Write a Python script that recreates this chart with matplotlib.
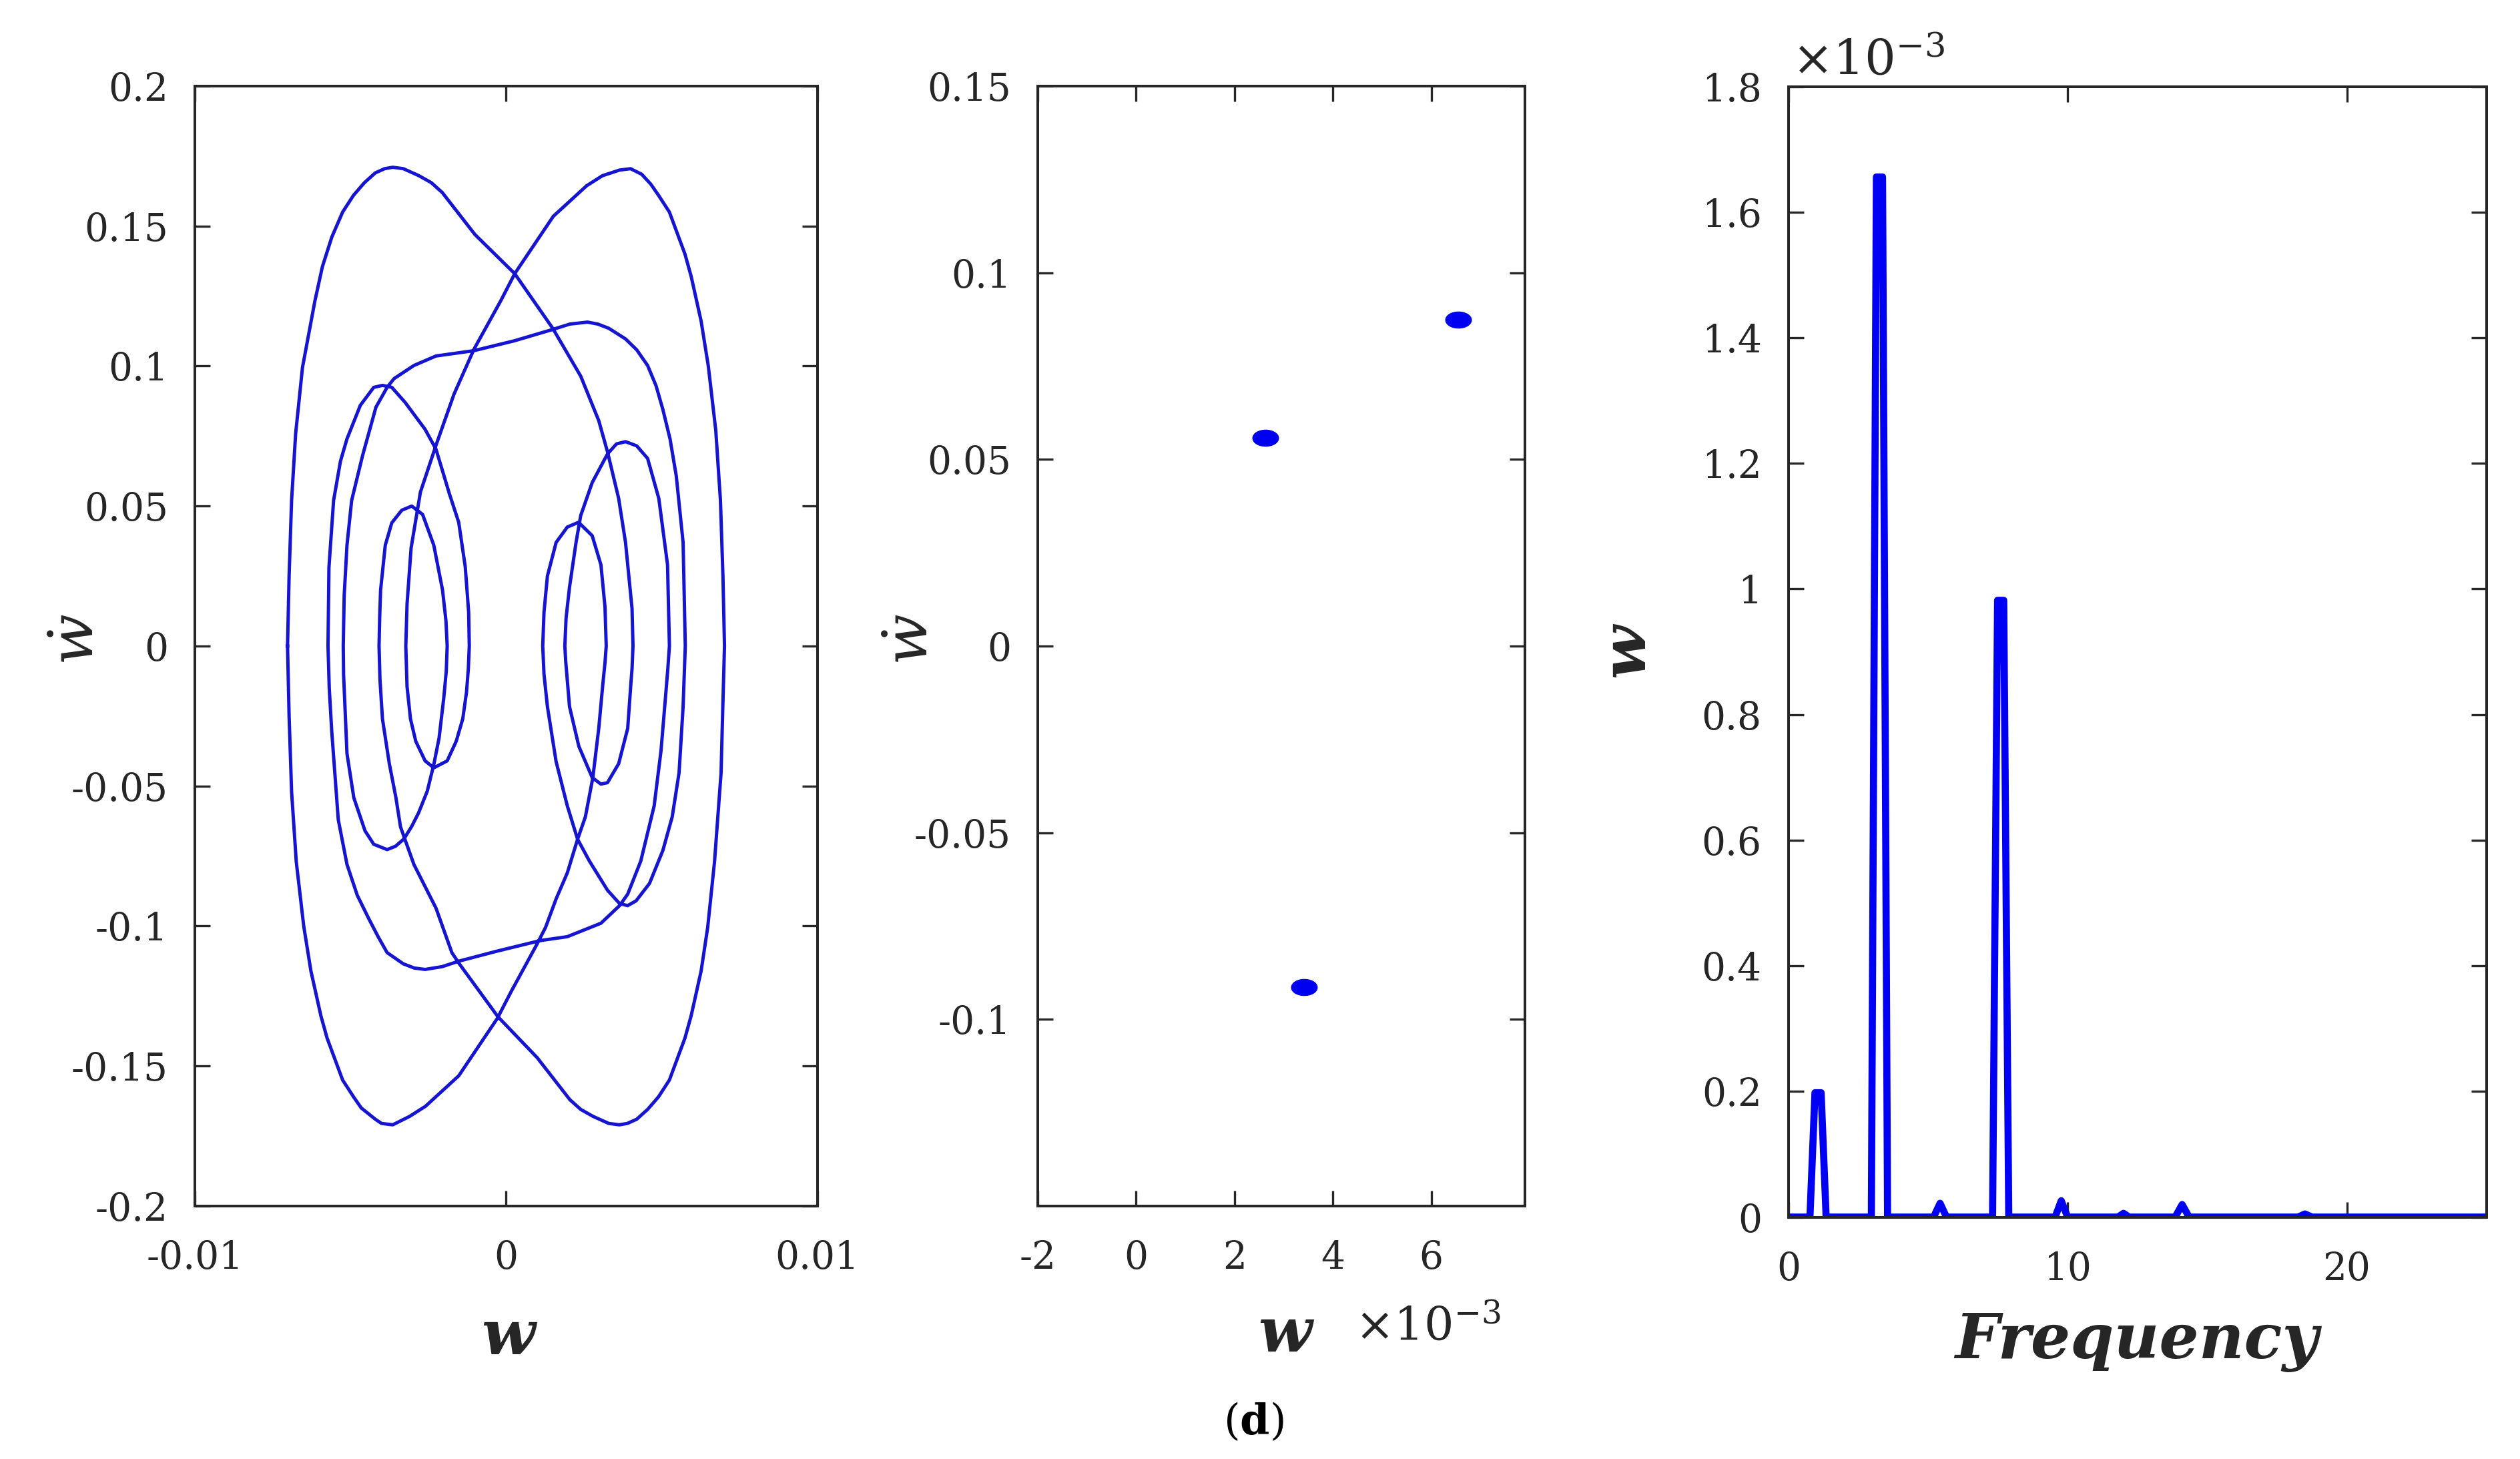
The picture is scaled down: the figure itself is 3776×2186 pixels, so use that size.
import numpy as np
import matplotlib
matplotlib.use("Agg")
import matplotlib.pyplot as plt
from matplotlib.path import Path
from matplotlib.transforms import Affine2D

plt.rcParams['font.family'] = 'DejaVu Serif'
plt.rcParams['mathtext.fontset'] = 'dejavuserif'
plt.rcParams['axes.unicode_minus'] = False

# ---- panel 1: phase portrait, one period read off the picture arc by arc
# w in units of 1e-3, wdot as is; each arc goes from one w-turning point to the next
arcs_w = [
    [-7.02, -6.97, -6.89, -6.76, -6.54, -6.14, -5.9, -5.6, -5.25, -4.9, -4.55, -4.2, -3.9, -3.64, -3.3, -2.8, -2.4, -2.05, -1.0, 0.28, 1.5, 2.4, 2.98, 3.26, 3.62, 3.84, 4.05, 4.08],
    [4.08, 4.05, 4.01, 3.91, 3.62, 3.26, 3.05, 2.77, 2.34, 2.04, 1.92, 1.89],
    [1.89, 1.93, 2.04, 2.25, 2.4, 2.77, 3.26, 3.55, 3.84, 4.2, 4.55, 4.91, 5.19, 5.25],
    [5.25, 5.2, 5.13, 4.98, 4.76, 4.33, 3.91, 3.65, 3.05, 1.97, 1.1, -0.3, -1.5, -2.05, -2.6, -2.95, -3.3, -3.82, -4.1, -4.4, -4.78, -5.11, -5.39, -5.6, -5.68, -5.72],
    [-5.72, -5.69, -5.54, -5.32, -5.11, -4.68, -4.25, -3.97, -3.67, -3.24, -2.6, -2.25, -1.82, -1.52, -1.31, -1.2, -1.18],
    [-1.18, -1.21, -1.27, -1.39, -1.6, -1.89, -2.32, -2.6, -2.9, -3.07, -3.18, -3.22],
    [-3.22, -3.18, -3.05, -2.75, -2.25, -1.67, -1.03, -0.17, 0.28, 1.52, 2.59, 3.1, 3.65, 4.0, 4.36, 4.65, 4.9, 5.25, 5.55, 5.75, 5.95, 6.27, 6.5, 6.74, 6.89, 6.97, 7.02],
    [7.02, 6.97, 6.91, 6.7, 6.48, 6.27, 5.95, 5.75, 5.55, 5.25, 4.9, 4.55, 4.2, 3.9, 3.64, 3.3, 2.8, 2.4, 2.05, 1.0, -0.26, -1.5, -1.74, -2.25, -2.96, -3.39, -3.54, -3.75, -3.97, -4.05, -4.08],
    [-4.08, -4.06, -4.03, -3.88, -3.67, -3.35, -3.03, -2.68, -2.32, -2.04, -1.93, -1.89],
    [-1.89, -1.92, -2.0, -2.15, -2.32, -2.53, -2.81, -3.03, -3.28, -3.55, -3.82, -4.25, -4.53, -4.89, -5.11, -5.17, -5.22, -5.23],
    [-5.23, -5.2, -5.11, -4.96, -4.61, -4.18, -3.82, -3.6, -2.96, -2.25, -1.03, 0.26, 1.48, 2.05, 2.62, 2.95, 3.3, 3.84, 4.2, 4.55, 4.82, 5.04, 5.27, 5.47, 5.69, 5.76],
    [5.76, 5.69, 5.56, 5.34, 5.04, 4.61, 4.18, 3.91, 3.65, 3.26, 2.68, 2.3, 1.97, 1.61, 1.33, 1.22, 1.18],
    [1.18, 1.22, 1.33, 1.61, 1.97, 2.33, 2.77, 3.05, 3.18, 3.22],
    [3.22, 3.18, 3.11, 2.98, 2.79, 2.55, 2.3, 1.97, 1.61, 1.27, 0.97, 0.17, -0.28, -1.52, -2.59, -3.1, -3.64, -4.0, -4.2, -4.65, -4.9, -5.25, -5.55, -5.75, -5.95, -6.27, -6.5, -6.74, -6.89, -6.97, -7.02],
]
arcs_v = [
    [0.0, 0.025, 0.052, 0.0758, 0.0995, 0.1233, 0.1355, 0.146, 0.155, 0.161, 0.1655, 0.169, 0.1705, 0.171, 0.1705, 0.168, 0.1655, 0.162, 0.147, 0.133, 0.1135, 0.0964, 0.0805, 0.0694, 0.0527, 0.037, 0.0133, 0.0],
    [0.0, -0.008, -0.0137, -0.0294, -0.042, -0.0488, -0.0493, -0.047, -0.0358, -0.0216, -0.0057, 0.0],
    [0.0, 0.01, 0.021, 0.037, 0.0466, 0.0584, 0.0686, 0.0722, 0.073, 0.0715, 0.067, 0.0527, 0.029, 0.0],
    [0.0, -0.008, -0.0175, -0.0374, -0.0571, -0.0768, -0.0886, -0.0927, -0.099, -0.1038, -0.1052, -0.109, -0.1125, -0.1145, -0.1155, -0.115, -0.1135, -0.1095, -0.104, -0.0976, -0.089, -0.078, -0.062, -0.0304, -0.015, 0.0],
    [0.0, 0.028, 0.052, 0.066, 0.074, 0.086, 0.0924, 0.0931, 0.0924, 0.087, 0.0774, 0.0703, 0.0544, 0.0442, 0.0283, 0.012, 0.0],
    [0.0, -0.008, -0.0165, -0.026, -0.034, -0.041, -0.0435, -0.041, -0.034, -0.026, -0.0145, 0.0],
    [0.0, 0.015, 0.035, 0.055, 0.0717, 0.09, 0.106, 0.1233, 0.133, 0.1535, 0.1644, 0.168, 0.17, 0.1705, 0.1685, 0.165, 0.161, 0.155, 0.146, 0.14, 0.132, 0.116, 0.1, 0.077, 0.052, 0.025, 0.0],
    [0.0, -0.02, -0.0453, -0.077, -0.1005, -0.116, -0.132, -0.14, -0.146, -0.155, -0.161, -0.1655, -0.169, -0.1705, -0.171, -0.1705, -0.168, -0.1655, -0.162, -0.147, -0.1324, -0.1135, -0.1095, -0.0936, -0.078, -0.0646, -0.054, -0.042, -0.026, -0.012, 0.0],
    [0.0, 0.01, 0.02, 0.036, 0.044, 0.0485, 0.05, 0.047, 0.036, 0.02, 0.009, 0.0],
    [0.0, -0.009, -0.0185, -0.0328, -0.0423, -0.0518, -0.0596, -0.0644, -0.0689, -0.0715, -0.0727, -0.0708, -0.066, -0.0542, -0.0384, -0.0226, -0.01, 0.0],
    [0.0, 0.018, 0.036, 0.052, 0.068, 0.0853, 0.0924, 0.0955, 0.1002, 0.1036, 0.1055, 0.109, 0.113, 0.115, 0.1157, 0.115, 0.1135, 0.1097, 0.1058, 0.1002, 0.093, 0.0845, 0.074, 0.0608, 0.037, 0.0],
    [0.0, -0.0216, -0.0453, -0.061, -0.073, -0.0848, -0.091, -0.0927, -0.092, -0.0872, -0.0768, -0.069, -0.0571, -0.0413, -0.0216, -0.01, 0.0],
    [0.0, 0.012, 0.025, 0.037, 0.0425, 0.0442, 0.0394, 0.029, 0.014, 0.0],
    [0.0, -0.006, -0.0137, -0.0294, -0.047, -0.061, -0.069, -0.081, -0.0903, -0.1005, -0.107, -0.1233, -0.133, -0.1535, -0.1644, -0.168, -0.171, -0.1705, -0.169, -0.165, -0.161, -0.155, -0.146, -0.14, -0.132, -0.116, -0.1, -0.077, -0.052, -0.025, 0.0],
]

p1_xticks = [-0.01, 0, 0.01]
p1_xlabels = ['-0.01', '0', '0.01']
p1_yticks = [0.2, 0.15, 0.1, 0.05, 0, -0.05, -0.1, -0.15, -0.2]
p1_ylabels = ['0.2', '0.15', '0.1', '0.05', '0', '-0.05', '-0.1', '-0.15', '-0.2']

# ---- panel 2: Poincare section (w in 1e-3)
poin_w = [2.63, 6.55, 3.41]
poin_v = [0.0557, 0.0875, -0.0914]
p2_xticks = [-2, 0, 2, 4, 6]
p2_xlabels = ['-2', '0', '2', '4', '6']
p2_yticks = [0.15, 0.1, 0.05, 0, -0.05, -0.1]
p2_ylabels = ['0.15', '0.1', '0.05', '0', '-0.05', '-0.1']

# ---- panel 3: amplitude spectrum (amplitude in 1e-3)
freq = [0, 0.77, 0.95, 1.17, 1.35, 2.97, 3.15, 3.37, 3.55, 5.2, 5.43, 5.66,
        7.31, 7.49, 7.71, 7.89, 9.55, 9.77, 10.0, 11.8, 12.0, 12.2,
        13.85, 14.1, 14.35, 18.25, 18.5, 18.75, 25]
amp = [0, 0, 0.198, 0.198, 0, 0, 1.656, 1.656, 0, 0, 0.022, 0,
       0, 0.982, 0.982, 0, 0, 0.026, 0, 0, 0.006, 0,
       0, 0.02, 0, 0, 0.005, 0, 0]
p3_xticks = [0, 10, 20]
p3_xlabels = ['0', '10', '20']
p3_yticks = [0, 0.2, 0.4, 0.6, 0.8, 1.0, 1.2, 1.4, 1.6, 1.8]
p3_ylabels = ['0', '0.2', '0.4', '0.6', '0.8', '1', '1.2', '1.4', '1.6', '1.8']

line_blue = '#1414d2'
dark = '#262626'

fig = plt.figure(figsize=(3776 / 240, 2186 / 240), dpi=240)
ax1 = fig.add_axes([0.0773, 0.1734, 0.2470, 0.7676])
ax2 = fig.add_axes([0.4118, 0.1734, 0.1933, 0.7676])
ax3 = fig.add_axes([0.7097, 0.1658, 0.2770, 0.7749])

# panel 1
w_phase = np.concatenate([np.array(a) for a in arcs_w]) * 1e-3
v_phase = np.concatenate([np.array(a) for a in arcs_v])
ax1.plot(w_phase, v_phase, color=line_blue, lw=1.5, solid_joinstyle='round')
ax1.set_xlim(-0.01, 0.01)
ax1.set_ylim(-0.2, 0.2)
ax1.set_xticks(p1_xticks)
ax1.set_xticklabels(p1_xlabels)
ax1.set_yticks(p1_yticks)
ax1.set_yticklabels(p1_ylabels)

# panel 2, stretched dots like in the original
dot = Path.unit_circle().transformed(Affine2D().scale(1.65, 1.0))
ax2.plot(poin_w, poin_v, linestyle='none', marker=dot, markersize=11,
         color='#0000f0')
ax2.set_xlim(-2, 7.9)
ax2.set_ylim(-0.15, 0.15)
ax2.set_xticks(p2_xticks)
ax2.set_xticklabels(p2_xlabels)
ax2.set_yticks(p2_yticks)
ax2.set_yticklabels(p2_ylabels)

# panel 3
ax3.plot(freq, amp, color='#0000f5', lw=3.2, solid_joinstyle='round')
ax3.set_xlim(0, 25)
ax3.set_ylim(0, 1.8)
ax3.set_xticks(p3_xticks)
ax3.set_xticklabels(p3_xlabels)
ax3.set_yticks(p3_yticks)
ax3.set_yticklabels(p3_ylabels)

for ax in (ax1, ax2, ax3):
    ax.tick_params(direction='in', top=True, right=True, length=7, width=1.0,
                   labelsize=17, colors=dark)
    ax.tick_params(axis='x', pad=15)
    ax.tick_params(axis='y', pad=12)
    for s in ax.spines.values():
        s.set_linewidth(1.2)
        s.set_color(dark)

# axis labels
fig.text(0.0306, 0.5617, r'$\dot{w}$', rotation=90, fontsize=27,
         ha='center', va='center', color=dark)
fig.text(0.2015, 0.0837, 'w', fontsize=28, fontweight='bold', style='italic',
         ha='center', va='center', color=dark)

fig.text(0.3616, 0.5617, r'$\dot{w}$', rotation=90, fontsize=27,
         ha='center', va='center', color=dark)
fig.text(0.510, 0.0855, 'w', fontsize=28, fontweight='bold', style='italic',
         ha='center', va='center', color=dark)
fig.text(0.5375, 0.090, r'$\times10^{-3}$', fontsize=21, ha='left',
         va='center', color=dark)

fig.text(0.6454, 0.554, 'w', rotation=90, fontsize=28, fontweight='bold',
         style='italic', ha='center', va='center', color=dark)
fig.text(0.848, 0.080, 'Frequency', fontsize=28, fontweight='bold',
         style='italic', ha='center', va='center', color=dark)
fig.text(0.711, 0.958, r'$\times10^{-3}$', fontsize=22, ha='left',
         va='center', color=dark)

fig.text(0.4975, 0.0252, r'($\mathbf{d}$)', fontsize=19, ha='center',
         va='center', color='black')

fig.savefig('out.png', dpi=240)
